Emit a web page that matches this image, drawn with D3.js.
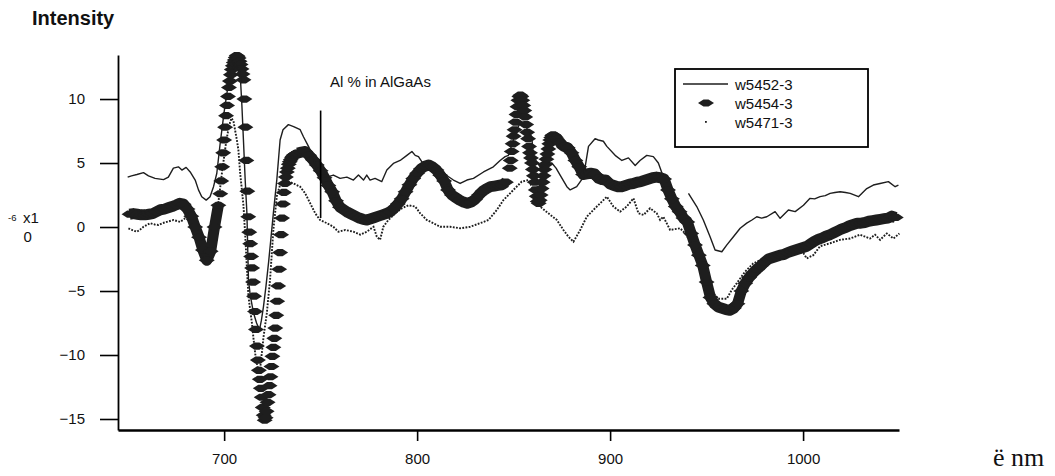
<!DOCTYPE html>
<html>
<head>
<meta charset="utf-8">
<script src="https://cdn.jsdelivr.net/npm/d3@7"></script>
<style>
	body { margin: 0; background: #fff; }
	svg { display: block; font-family: "Liberation Sans", Arial, sans-serif; }
</style>
</head>
<body>
<svg id="chart" width="1055" height="476"></svg>
<script>
'use strict';

//Series names, in legend order
var seriesNames = ["w5452-3", "w5454-3", "w5471-3"];

//w5452-3 : solid trace, [wavelength nm, intensity x1e-6], null = gap in the trace
var w5452 = [
	[650,3.9],[652,4.0],[654.8,4.1],[658.2,4.25],[660.8,4.0],[664.2,3.8],[668.6,3.7],[671.1,3.9],
	[673.7,4.6],[676.3,4.7],[678.1,4.45],[680.3,4.66],[682.4,4.3],[685,3.67],[686.7,2.9],[688.4,2.37],
	[690.7,2.1],[692.7,2.37],[694.5,3.15],[696.2,4.2],[698,6.6],[700,9.0],[702,11.0],[704,12.3],
	[706,12.7],[708.3,12.0],[709.2,9.5],[710,6.8],[710.9,3.7],[711.8,1.07],[712.6,-4.1],[713.5,-5.3],
	[715.2,-6.7],[716.8,-7.5],[718.3,-8.05],[719.3,-7.3],[720.4,-6.2],[721.7,-4.6],[723,-2.8],[724.3,-0.8],
	[725.5,1.07],[727.3,3.7],[729,6.8],[730.5,7.6],[733.3,8.0],[736,7.85],[739.4,7.6],[741.1,7.05],
	[743.7,6.3],[746.3,5.4],[748.7,4.2],[751,3.95],[753.2,3.9],[756.6,4.06],[760.1,3.8],[763.6,3.9],
	[767,3.67],[769.6,4.06],[772.2,3.67],[773.9,4.06],[775.6,3.67],[778.2,3.8],[781.7,3.55],[784.3,4.45],
	[787.7,4.97],[791.2,5.2],[794.7,5.6],[797.3,5.9],[799,5.6],[800.7,5.5],[802.4,5.1],[806.7,4.45],
	[810.4,4.3],[813.6,4.2],[818.8,3.67],[822.3,3.4],[825.8,3.67],[829.2,3.8],[834.4,4.3],[839.5,4.7],
	[843,5.2],[845.6,5.5],[847.3,5.6],[849.5,6.6],[851.5,7.6],[853.4,8.1],[856.5,7.8],[859.4,7.05],
	[860.3,5.5],[863.7,4.7],[866.5,4.9],[869.8,5.0],[872,4.6],[874.1,4.06],[877.6,3.15],[879.3,2.9],
	[882.7,3.15],[886.2,3.9],[888.8,6.3],[892.2,6.9],[893.9,6.8],[896.5,6.7],[898.3,6.3],[902.6,5.6],
	[906.1,5.2],[909.5,5.4],[913,4.8],[915.5,5.2],[919,5.6],[922.4,5.5],[925,5.0],[927.6,3.9],
	[934,null],
	[940.6,2.63],[944.9,1.6],[948.3,0.55],[951.8,-0.76],[954.4,-1.8],[957.9,-1.93],[960.5,-1.4],[963.9,-0.76],
	[967.4,-0.1],[970.8,0.3],[973.5,0.55],[976,0.8],[978.5,0.7],[981.2,0.8],[985.5,1.2],[988.1,0.68],
	[992.4,1.33],[995.9,1.2],[1000.2,1.7],[1003.6,2.24],[1006,2.2],[1008.8,2.37],[1011.5,2.45],[1014,2.63],
	[1016.5,2.7],[1019.2,2.76],[1022,2.7],[1024.4,2.63],[1028.7,2.37],[1033,3.0],[1036.4,3.28],[1039.9,3.4],
	[1044.2,3.55],[1047.7,3.15],[1049.4,3.28]
];

//w5454-3 : marker trace, sampled in segments (start nm, step nm, values)
var w5454Seg1 = [1.0,1.05,1.0,0.95,0.95,1.0,1.05,1.2,1.35,1.4,1.5,1.6,1.72,1.85,1.78,1.4,
	0.85,0.0,-0.8,-1.8,-2.6,-1.9,0.0,1.7];
var w5454Seg2 = [2.6,3.6,4.7,5.8,6.8,7.8,8.7,9.5,10.2,10.9,11.4,11.9,12.3,12.6,12.85,13.05,
	13.25,13.4,13.35,13.2,12.95,12.7,12.35,11.95,11.5,10.0,7.8,5.2,2.8,0.8,-0.4,-1.3,
	-2.3,-3.2,-4.3,-5.4,-6.6,-8.0,-9.3,-10.4,-11.2,-11.9,-12.6,-13.3,-14.1,-14.7,-15.1,-14.9,
	-14.4,-13.7,-13.1,-12.4,-11.7,-10.9,-10.1,-9.4,-8.7,-7.9,-6.9,-5.8,-4.6,-3.3,-2.0,-0.6,
	0.7,1.8,2.7,3.4,3.9,4.3,4.6,4.9,5.1,5.25,5.4,5.5,5.6,5.65,5.7,5.75];
var w5454Seg3 = [5.78,5.85,5.9,5.6,5.25,4.85,4.4,3.85,3.25,2.75,2.05,1.55,1.35,1.15,1.0,0.85,
	0.7,0.6,0.55,0.65,0.75,0.85,0.95,1.05,1.2,1.45,1.8,2.2,2.75,3.3,3.8,4.2,
	4.55,4.75,4.85,4.7,4.45,4.05,3.6,2.9,2.5,2.3,2.1,1.95,1.85,1.95,2.15,2.5,
	2.8,3.0,3.15,3.2,3.25,3.3,3.5];
var w5454Seg4 = [4.6,5.2,5.9,6.5,7.1,7.6,8.2,8.8,9.4,9.9,10.2,10.3,10.2,9.9,9.5,9.1,
	8.6,8.0,7.4,6.9,6.3,5.8,5.4,5.0,4.5,4.0,3.5,2.9,2.4,2.0,1.85,2.1,
	2.5,3.0,3.5,4.0,4.5,4.9,5.3,5.7,6.1,6.5,6.8,7.0,7.15,7.2,7.15,7.05,
	6.95,6.85,6.75,6.65];
var w5454Seg5 = [6.55,6.3,6.2,5.8,5.2,4.7,4.1,4.15,4.2,4.15,3.8,3.7,3.65,3.35,3.25,3.15,
	3.15,3.25,3.35,3.4,3.5,3.55,3.65,3.75,3.85,3.9,3.85,3.75,2.9,2.2,1.6,1.2,
	0.7,0.4,-0.5,-1.4,-2.2,-3.0,-4.3,-5.5,-6.0,-6.25,-6.35,-6.45,-6.5,-6.35,-6.0,-5.0,
	-4.4,-3.95,-3.6,-3.3,-3.05,-2.75,-2.5,-2.4,-2.3,-2.2,-2.15,-2.0,-1.9,-1.8,-1.7,-1.6,
	-1.5,-1.3,-1.1,-0.95,-0.85,-0.7,-0.6,-0.45,-0.3,-0.15,-0.05,0.1,0.2,0.3,0.3,0.35,
	0.45,0.5,0.55,0.6,0.65,0.7,0.85,0.75];
var w5454Segments = [
	{ start: 651, step: 2, values: w5454Seg1 },
	{ start: 698, step: 0.5, values: w5454Seg2 },
	{ start: 738, step: 2, values: w5454Seg3 },
	{ start: 848, step: 0.5, values: w5454Seg4 },
	{ start: 874, step: 2, values: w5454Seg5 }
];

//w5471-3 : dotted trace, [wavelength nm, intensity x1e-6]
var w5471 = [
	[650.4,-0.1],[652.5,-0.25],[654.8,-0.37],[656.5,-0.2],[658.2,0.02],[661.7,0.3],[664,0.2],[666,0.16],
	[668,0.3],[670.3,0.4],[673.7,0.55],[677.2,0.4],[679.8,0.68],[682,0.5],[684,0.0],[686,-0.6],
	[688,-1.3],[690,-1.9],[691.5,-2.2],[693,-1.7],[695,-0.2],[697,1.9],[699,4.4],[701,6.6],
	[702.5,7.9],[703.8,8.5],[704.8,8.3],[706.6,6.8],[707.4,6.0],[708.3,4.2],[709.2,2.9],[710,1.7],
	[710.9,-0.6],[711.8,-3.2],[712.6,-5.4],[713.5,-6.5],[714.4,-7.5],[715.2,-8.7],[716.1,-9.9],[717,-10.7],
	[717.8,-11.2],[718.7,-11.0],[719.5,-9.9],[720.4,-8.6],[722.1,-6.75],[723.8,-4.1],[725.5,-0.23],[727.3,2.4],
	[729,3.3],[731.6,3.67],[735.9,3.4],[739.4,3.15],[742,2.63],[744.6,1.85],[747.2,1.07],[749.7,0.55],
	[753.2,0.3],[756.6,0.02],[759.2,-0.37],[762.7,-0.23],[765,-0.3],[767,-0.37],[770.5,-0.6],[773.9,-0.37],
	[777.4,0.02],[779.1,-0.76],[780.8,-1.0],[782.5,0.02],[785.1,0.55],[788.6,1.07],[792.1,1.46],[795.5,1.7],
	[799,1.6],[801.6,1.07],[805,0.55],[808.4,0.3],[811.9,0.02],[817.1,0.02],[822.3,-0.1],[827.5,0.02],
	[832.6,0.3],[837,0.55],[841.3,1.33],[844.7,2.1],[849.9,2.9],[854.2,3.55],[857.7,3.67],[860.3,2.9],
	[863.7,1.6],[868,1.07],[872.4,0.55],[875.8,-0.23],[878.4,-0.76],[881,-1.15],[884.5,-0.23],[887.9,0.8],
	[891.3,1.33],[894.8,1.85],[898.3,2.37],[901.7,1.6],[905.2,1.2],[908.6,1.6],[912.1,2.24],[914.7,1.07],
	[917.3,0.94],[920.7,1.46],[924.2,1.07],[925.9,0.55],[927.6,0.8],[931.1,-0.23],[936.3,-0.1],[938.9,-0.5],
	[942.3,-1.27],[945.8,-2.6],[948.4,-3.6],[951.8,-4.9],[956.1,-5.6],[960.5,-5.6],[963.1,-4.9],[965.6,-4.4],
	[969.9,-3.5],[974.2,-2.84],[977.7,-2.6],[982.9,-2.3],[988.1,-2.05],[995,-1.8],[1000.2,-2.05],[1001.9,-2.45],
	[1005.3,-2.2],[1008.8,-1.5],[1014,-1.27],[1019.2,-1.0],[1024.4,-0.9],[1029.5,-0.6],[1034.7,-0.9],[1037.3,-0.6],
	[1039.9,-1.0],[1043.4,-0.5],[1046.8,-0.9],[1049.9,-0.5]
];

//Axis ticks
var xTicks = [700, 800, 900, 1000];
var yTicks = [-15, -10, -5, 0, 5, 10];

//Marker at the Al % in AlGaAs position: [wavelength, top, bottom]
var alMarker = [750, 9.1, 0.7];

var ink = "#1e1e1e";
var svg = d3.select("#chart");

var x = d3.scaleLinear().domain([645, 1049.7]).range([118, 899]);
var y = d3.scaleLinear().domain([-15.86, 13.44]).range([430, 55]);

//Axes
var xAxis = svg.append("g")
	.attr("transform", "translate(0,430)")
	.call(d3.axisBottom(x).tickValues(xTicks).tickFormat(d3.format("d"))
		.tickSize(11).tickSizeOuter(0).tickPadding(12));
xAxis.select(".domain").attr("stroke-width", 2.4).attr("stroke", "#000");
xAxis.selectAll(".tick line").attr("stroke-width", 1.6).attr("stroke", "#000");
xAxis.selectAll(".tick text").attr("font-size", 15).attr("fill", "#111")
	.attr("font-family", "Liberation Sans, Arial, sans-serif");

var yAxis = svg.append("g")
	.attr("transform", "translate(118,0)")
	.call(d3.axisLeft(y).tickValues(yTicks).tickSize(18).tickSizeOuter(0).tickPadding(15));
yAxis.select(".domain").attr("stroke-width", 1.8).attr("stroke", "#000");
yAxis.selectAll(".tick line").attr("stroke-width", 1.6).attr("stroke", "#000");
yAxis.selectAll(".tick text").attr("font-size", 15).attr("fill", "#111")
	.attr("font-family", "Liberation Sans, Arial, sans-serif");

//Diamond marker, stretched horizontally
var diamond = "M-8,0L-2.5,-3.6L2.5,-3.6L8,0L2.5,3.6L-2.5,3.6Z";

var traceLine = d3.line()
	.defined(function(d) { return d[1] !== null; })
	.x(function(d) { return x(d[0]); })
	.y(function(d) { return y(d[1]); });

//w5471-3 dotted trace
svg.append("path")
	.datum(w5471)
	.attr("d", traceLine)
	.attr("fill", "none")
	.attr("stroke", ink)
	.attr("stroke-width", 1.9)
	.attr("stroke-dasharray", "1.8,1.4");

//w5454-3 markers: where the samples are close they merge into a band
var w5454 = [];
w5454Segments.forEach(function(seg) {
	var segPoints = seg.values.map(function(v, i) { return [seg.start + i * seg.step, v]; });
	seg.points = segPoints;
	w5454 = w5454.concat(segPoints);
});

svg.append("g").selectAll("path")
	.data(w5454Segments.filter(function(s) { return s.step >= 2; }))
	.enter().append("path")
	.attr("d", function(s) { return traceLine(s.points); })
	.attr("fill", "none")
	.attr("stroke", ink)
	.attr("stroke-width", 11)
	.attr("stroke-linejoin", "round");

svg.append("g").selectAll("path")
	.data(w5454)
	.enter().append("path")
	.attr("d", diamond)
	.attr("transform", function(d) { return "translate(" + x(d[0]) + "," + y(d[1]) + ")"; })
	.attr("fill", ink);

//w5452-3 solid trace
svg.append("path")
	.datum(w5452)
	.attr("d", traceLine)
	.attr("fill", "none")
	.attr("stroke", ink)
	.attr("stroke-width", 1.4)
	.attr("stroke-linejoin", "round");

//Al % marker line and label
svg.append("line")
	.attr("x1", x(alMarker[0])).attr("x2", x(alMarker[0]))
	.attr("y1", y(alMarker[1])).attr("y2", y(alMarker[2]))
	.attr("stroke", "#000").attr("stroke-width", 1.6);

svg.append("text")
	.attr("x", 330).attr("y", 87)
	.attr("font-size", 15).attr("fill", "#111")
	.text("Al % in AlGaAs");

//Titles
svg.append("text")
	.attr("x", 32).attr("y", 24.5)
	.attr("font-size", 20).attr("font-weight", "bold").attr("fill", "#111")
	.text("Intensity");

svg.append("text")
	.attr("x", 8).attr("y", 221)
	.attr("font-size", 9.5).attr("fill", "#111")
	.text("-6");
svg.append("text")
	.attr("x", 23).attr("y", 223)
	.attr("font-size", 15).attr("fill", "#111")
	.text("x1");
svg.append("text")
	.attr("x", 23.5).attr("y", 242)
	.attr("font-size", 15).attr("fill", "#111")
	.text("0");

svg.append("text")
	.attr("x", 993).attr("y", 466)
	.attr("font-size", 26)
	.attr("font-family", "Liberation Serif, Times New Roman, serif")
	.attr("fill", "#111")
	.text("ë nm");

//Legend
var legend = svg.append("g");
legend.append("rect")
	.attr("x", 675).attr("y", 69).attr("width", 193).attr("height", 78)
	.attr("fill", "#fff").attr("stroke", "#000").attr("stroke-width", 1.8);

var rowY = [84, 103, 122];
legend.append("line")
	.attr("x1", 683).attr("x2", 728).attr("y1", rowY[0]).attr("y2", rowY[0])
	.attr("stroke", ink).attr("stroke-width", 1.4);
legend.append("path")
	.attr("d", diamond)
	.attr("transform", "translate(706," + rowY[1] + ")")
	.attr("fill", ink);
legend.append("rect")
	.attr("x", 705).attr("y", rowY[2] - 1).attr("width", 1.8).attr("height", 1.8)
	.attr("fill", ink);

legend.selectAll("text.leg")
	.data(seriesNames)
	.enter().append("text")
	.attr("class", "leg")
	.attr("x", 735)
	.attr("y", function(d, i) { return rowY[i] + 5.5; })
	.attr("font-size", 15).attr("fill", "#111")
	.text(function(d) { return d; });
</script>
</body>
</html>
